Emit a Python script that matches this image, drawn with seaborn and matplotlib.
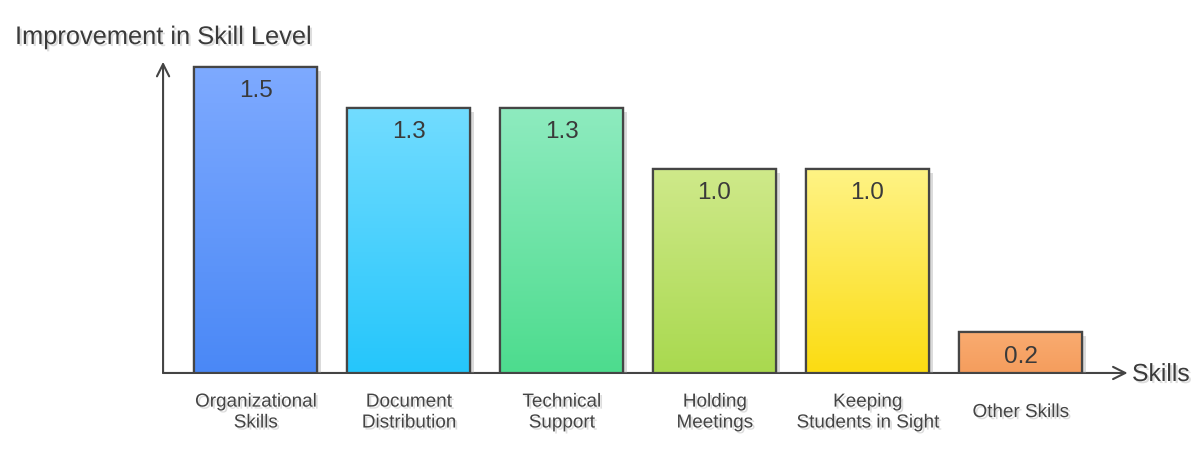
import numpy as np
import pandas as pd
import matplotlib
matplotlib.use("Agg")
import matplotlib.pyplot as plt
import matplotlib.patheffects as pe
from matplotlib.colors import to_rgb
import seaborn as sns

# ===============================
# Data
# ===============================
skills = ["Organizational\nSkills", "Document\nDistribution", "Technical\nSupport",
          "Holding\nMeetings", "Keeping\nStudents in Sight", "Other Skills"]
improvement = [1.5, 1.3, 1.3, 1.0, 1.0, 0.2]
value_labels = ["1.5", "1.3", "1.3", "1.0", "1.0", "0.2"]

top_colors = ["#7eaaff", "#72dcff", "#8eebbf", "#cfe98a", "#fff385", "#f9ab70"]
bottom_colors = ["#4a88f6", "#25c6fb", "#4ddc8e", "#a9d94f", "#fbdc12", "#f59d5d"]

df = pd.DataFrame({"skill": skills, "improvement": improvement})

sns.set_theme(style="white")
plt.rcParams["font.family"] = ["Liberation Sans", "DejaVu Sans"]

fig = plt.figure(figsize=(11.99, 4.51), dpi=100)
ax = fig.add_axes([0.136, 0.173, 0.807, 0.69])

sns.barplot(data=df, x="skill", y="improvement", ax=ax, width=0.8,
            color="white", edgecolor="#454545", linewidth=1.6, zorder=3)

ax.set_xlim(-0.605, 5.72)
ax.set_ylim(0, 1.525)

shadow = [pe.SimplePatchShadow(offset=(3, -3), shadow_rgbFace="#999999", alpha=0.35), pe.Normal()]
txt_shadow = [pe.SimplePatchShadow(offset=(1.5, -1.5), shadow_rgbFace="#aaaaaa", alpha=0.4), pe.Normal()]

# gradient fill for each bar, clipped to the bar shape
for patch, c_top, c_bot, lab in zip(ax.patches, top_colors, bottom_colors, value_labels):
    patch.set_path_effects(shadow)
    x0, y0 = patch.get_x(), patch.get_y()
    w, h = patch.get_width(), patch.get_height()
    t = np.linspace(0, 1, 100)[:, None]
    grad = (1 - t) * np.array(to_rgb(c_top)) + t * np.array(to_rgb(c_bot))
    grad = grad[:, None, :].repeat(2, axis=1)
    im = ax.imshow(grad, extent=[x0, x0 + w, y0, y0 + h], aspect="auto",
                   origin="upper", zorder=3.5)
    im.set_clip_path(patch)
    edge = plt.Rectangle((x0, y0), w, h, fill=False, edgecolor="#454545",
                         linewidth=1.6, zorder=4)
    ax.add_patch(edge)
    ax.text(x0 + w / 2, y0 + h - 0.12, lab, ha="center", va="center",
            fontsize=17.5, color="#3a3a3a", zorder=5)

for s in ax.spines.values():
    s.set_visible(False)

ax.annotate("", xy=(-0.605, 1.525), xytext=(-0.605, 0),
            arrowprops=dict(arrowstyle="->", color="#444444", lw=1.5,
                            mutation_scale=22, shrinkA=0, shrinkB=0),
            annotation_clip=False, zorder=2)
ax.annotate("", xy=(5.70, 0), xytext=(-0.605, 0),
            arrowprops=dict(arrowstyle="->", color="#444444", lw=1.5,
                            mutation_scale=22, shrinkA=0, shrinkB=0),
            annotation_clip=False, zorder=2)

ax.set_xlabel("")
ax.set_ylabel("")
ax.set_yticks([])
ax.tick_params(axis="x", length=0, pad=28.5, labelsize=13.6, labelcolor="#444444")
for tl in ax.get_xticklabels():
    tl.set_linespacing(1.3)
    tl.set_verticalalignment("center")
    tl.set_path_effects(txt_shadow)

fig.text(15 / 1199, 1 - 37 / 451, "Improvement in Skill Level", ha="left", va="center",
         fontsize=18.3, color="#3a3a3a", path_effects=txt_shadow)
fig.text(1132 / 1199, 1 - 374 / 451, "Skills", ha="left", va="center",
         fontsize=17.8, color="#3a3a3a", path_effects=txt_shadow)

fig.savefig("out.png", dpi=100, facecolor="white")
